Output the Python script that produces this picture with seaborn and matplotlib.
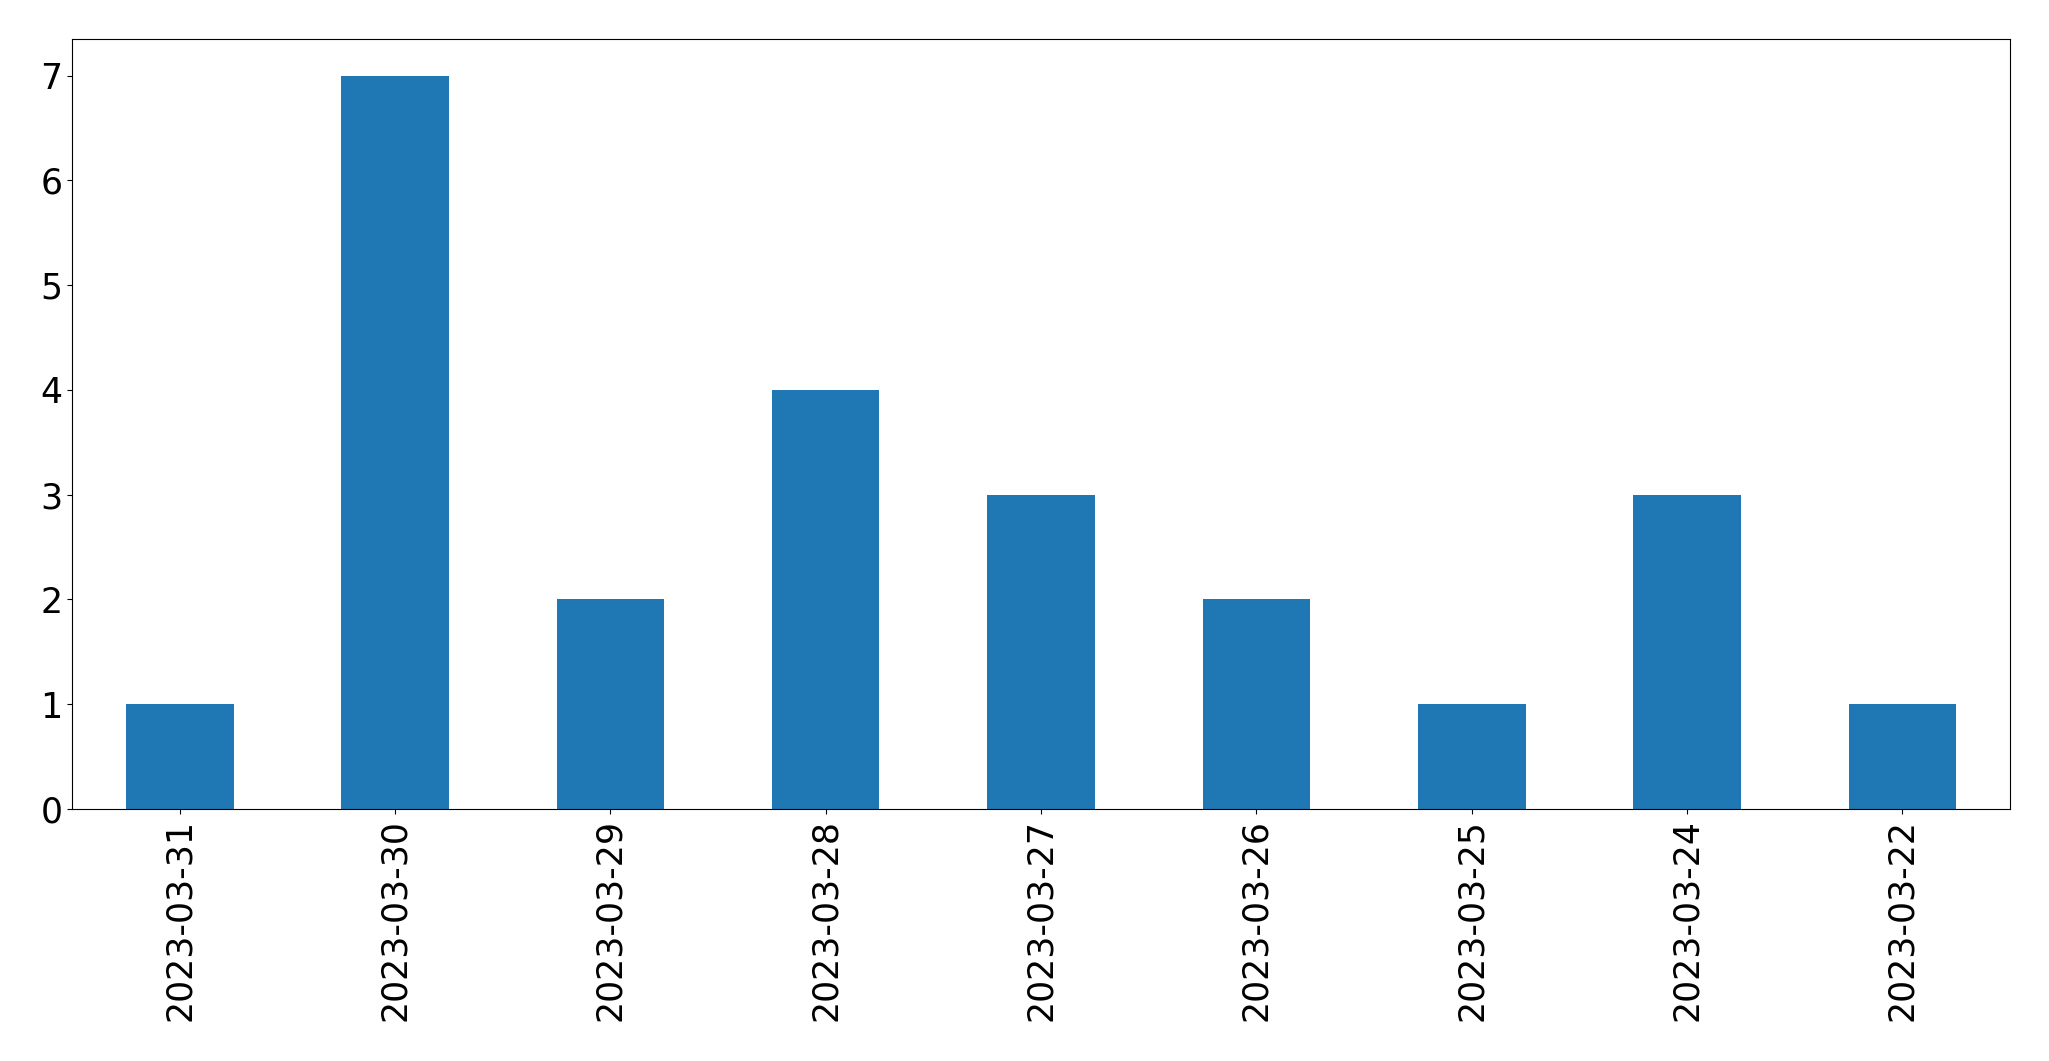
import pandas as pd
import matplotlib
matplotlib.use("Agg")
import matplotlib.pyplot as plt
import seaborn as sns

# counts per day
dates = ["2023-03-31", "2023-03-30", "2023-03-29", "2023-03-28", "2023-03-27",
         "2023-03-26", "2023-03-25", "2023-03-24", "2023-03-22"]
counts = [1, 7, 2, 4, 3, 2, 1, 3, 1]

df = pd.DataFrame({"date": dates, "count": counts})

plt.rcParams["font.size"] = 25

fig, ax = plt.subplots(figsize=(20.49, 10.61), dpi=100)
fig.subplots_adjust(left=72/2049, right=2010/2049, top=1-39/1061, bottom=1-809/1061)

sns.barplot(x="date", y="count", data=df, order=dates, color="#1f77b4",
            saturation=1, width=0.5, errorbar=None, linewidth=0, ax=ax)

ax.set_xlim(-0.5, len(dates) - 0.5)
ax.set_ylim(0, 7.35)
ax.set_xlabel("")
ax.set_ylabel("")
ax.tick_params(axis="x", labelrotation=90)

fig.savefig("out.png", dpi=100)
